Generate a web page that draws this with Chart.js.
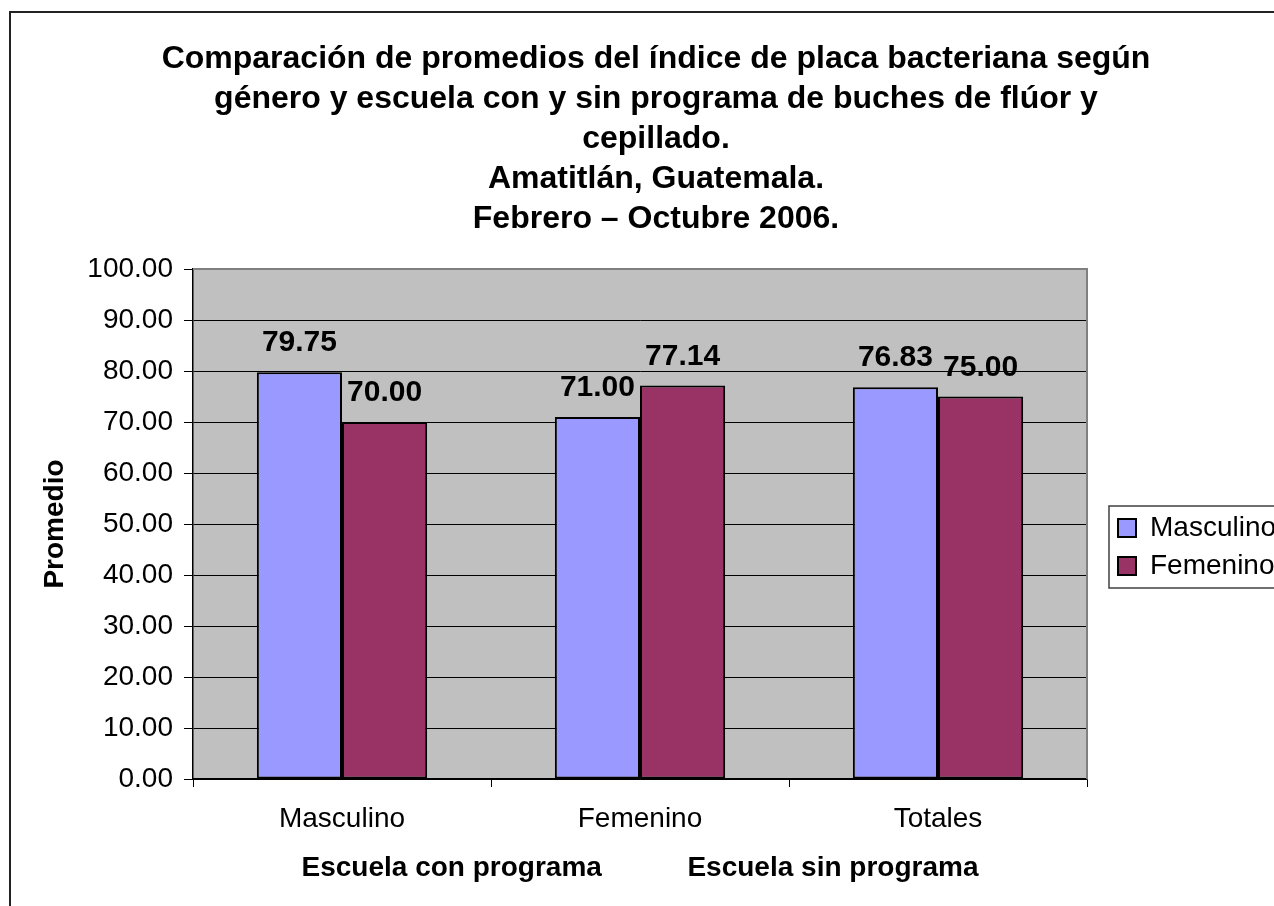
<!DOCTYPE html>
<html>
<head>
<meta charset="utf-8">
<script src="https://cdn.jsdelivr.net/npm/chart.js@4.4.1/dist/chart.umd.min.js"></script>
<style>
  html, body { margin: 0; padding: 0; background: #fff; overflow: hidden; }
  #wrap { position: absolute; left: 9px; top: 11px; width: 1290px; height: 895px; border-left: 2px solid #222; border-top: 2px solid #222; }
  #c { display: block; }
</style>
</head>
<body>
<div id="wrap"><canvas id="c" width="1290" height="895"></canvas></div>
<script>
const FONT = "'Liberation Sans', Arial, sans-serif";

const categories = ['Masculino', 'Femenino', 'Totales'];
const seriesNames = ['Masculino', 'Femenino'];
const masculinoValues = [79.75, 71.00, 76.83];
const femeninoValues = [70.00, 77.14, 75.00];
const yTickMin = 0;
const yTickMax = 100;
const yTickStep = 10;
const titleLines = [
  'Comparación de promedios del índice de placa bacteriana según',
  'género y escuela con y sin programa de buches de flúor y',
  'cepillado.',
  'Amatitlán, Guatemala.',
  'Febrero – Octubre 2006.'
];
const yAxisTitle = 'Promedio';
const xAxisTitle = 'Escuela con programa           Escuela sin programa';

const LEGEND_W = 166;

const plotDecor = {
  id: 'plotDecor',
  beforeLayout(chart) {
    const lg = chart.legend;
    if (lg && !lg.__wrapped) {
      const orig = lg.fit;
      lg.fit = function () { orig.call(this); this.width = LEGEND_W; };
      lg.__wrapped = true;
    }
  },
  beforeDraw(chart) {
    const {ctx, chartArea: a} = chart;
    ctx.save();
    ctx.fillStyle = '#C0C0C0';
    ctx.fillRect(a.left, a.top, a.right - a.left, a.bottom - a.top);
    ctx.restore();
  },
  beforeDatasetsDraw(chart) {
    const {ctx, chartArea: a} = chart;
    ctx.save();
    ctx.strokeStyle = '#808080';
    ctx.lineWidth = 2;
    ctx.beginPath();
    ctx.moveTo(a.left, a.top);
    ctx.lineTo(a.right, a.top);
    ctx.lineTo(a.right, a.bottom);
    ctx.stroke();
    ctx.restore();
  },
  afterDatasetsDraw(chart) {
    const {ctx} = chart;
    ctx.save();
    ctx.font = 'bold 30px ' + FONT;
    ctx.fillStyle = '#000';
    ctx.textAlign = 'center';
    ctx.textBaseline = 'alphabetic';
    chart.data.datasets.forEach((ds, i) => {
      chart.getDatasetMeta(i).data.forEach((bar, j) => {
        ctx.fillText(ds.data[j].toFixed(2), bar.x, bar.y - 21);
      });
    });
    ctx.restore();
  },
  afterLayout(chart) {
    const lg = chart.legend;
    if (!lg) return;
    const a = chart.chartArea;
    const dx = a.right + 31 - (lg.left + 10);
    lg.left += dx; lg.right += dx;
    const h = lg.bottom - lg.top;
    lg.top = a.top + 235;
    lg.bottom = lg.top + h;
  },
  afterDraw(chart) {
    const lg = chart.legend;
    if (!lg || !lg.legendHitBoxes || !lg.legendHitBoxes.length) return;
    const hb = lg.legendHitBoxes;
    let minX = Infinity, maxX = -Infinity, minY = Infinity, maxY = -Infinity;
    hb.forEach(h => {
      minX = Math.min(minX, h.left); maxX = Math.max(maxX, h.left + h.width);
      minY = Math.min(minY, h.top); maxY = Math.max(maxY, h.top + h.height);
    });
    const {ctx} = chart;
    ctx.save();
    ctx.strokeStyle = '#404040';
    ctx.lineWidth = 1.5;
    ctx.strokeRect(minX - 9, minY - 8, (maxX - minX) + 18, (maxY - minY) + 16);
    ctx.restore();
  }
};

new Chart(document.getElementById('c'), {
  type: 'bar',
  data: {
    labels: categories,
    datasets: [
      { label: seriesNames[0], data: masculinoValues, backgroundColor: '#9999FF', borderColor: '#000', borderWidth: 2, borderSkipped: false },
      { label: seriesNames[1], data: femeninoValues, backgroundColor: '#993366', borderColor: '#000', borderWidth: 2, borderSkipped: false }
    ]
  },
  options: {
    responsive: false,
    animation: false,
    devicePixelRatio: 1,
    layout: { padding: { left: 48, right: 48, top: 0, bottom: 0 } },
    datasets: { bar: { categoryPercentage: 2 / 3.5, barPercentage: 1.0 } },
    plugins: {
      tooltip: { enabled: false },
      title: {
        display: true,
        text: titleLines,
        color: '#000',
        font: { family: FONT, size: 32, weight: 'bold', lineHeight: '40px' },
        padding: { top: 26, bottom: 30 }
      },
      legend: {
        position: 'right',
        align: 'start',
        labels: {
          color: '#000',
          font: { family: FONT, size: 28 },
          boxWidth: 18,
          boxHeight: 18,
          padding: 10
        }
      }
    },
    scales: {
      x: {
        offset: true,
        grid: { display: true, drawOnChartArea: false, drawTicks: true, tickLength: 8, color: '#000', tickColor: '#000' },
        border: { display: true, color: '#000', width: 1.5 },
        ticks: { color: '#000', padding: 15, font: { family: FONT, size: 28, lineHeight: 1.2 }, maxRotation: 0 },
        title: { display: true, text: xAxisTitle, color: '#000', font: { family: FONT, size: 28, weight: 'bold', lineHeight: 1.2 }, padding: { top: 0, bottom: 23 } },
        afterFit(scale) { scale.height = 129; }
      },
      y: {
        min: yTickMin,
        max: yTickMax,
        grid: { color: '#000', lineWidth: 1, drawTicks: true, tickLength: 9, tickColor: '#000' },
        border: { display: true, color: '#000', width: 1.5 },
        ticks: { stepSize: yTickStep, color: '#000', padding: 11, font: { family: FONT, size: 28 }, callback: v => Number(v).toFixed(2) },
        title: { display: true, text: yAxisTitle, color: '#000', font: { family: FONT, size: 28, weight: 'bold', lineHeight: 1.2 }, padding: { top: -21, bottom: 0 } },
        afterFit(scale) { scale.width = 134; }
      }
    }
  },
  plugins: [plotDecor]
});
</script>
</body>
</html>
